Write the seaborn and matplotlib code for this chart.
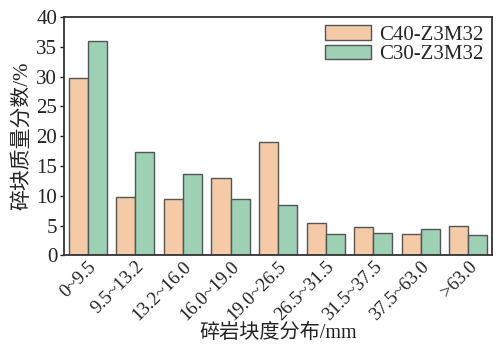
import matplotlib
matplotlib.use("Agg")
import matplotlib.pyplot as plt
import seaborn as sns
import pandas as pd

categories = ["0~9.5", "9.5~13.2", "13.2~16.0", "16.0~19.0", "19.0~26.5",
              "26.5~31.5", "31.5~37.5", "37.5~63.0", ">63.0"]
c40_values = [29.8, 9.8, 9.4, 12.9, 19.0, 5.5, 4.7, 3.6, 5.0]
c30_values = [35.9, 17.3, 13.7, 9.5, 8.4, 3.6, 3.8, 4.5, 3.4]
series_names = ["C40-Z3M32", "C30-Z3M32"]
yticks = [0, 5, 10, 15, 20, 25, 30, 35, 40]

df = pd.DataFrame({
    "range": categories * 2,
    "value": c40_values + c30_values,
    "series": [series_names[0]] * len(categories) + [series_names[1]] * len(categories),
})

sns.set_theme(style="ticks")
plt.rcParams["font.family"] = ["Liberation Serif", "Noto Sans CJK SC"]

fig, ax = plt.subplots(figsize=(5.01, 3.46), dpi=100)
sns.barplot(data=df, x="range", y="value", hue="series", order=categories,
            hue_order=series_names, palette=["#F5CBA7", "#9DD0B5"],
            saturation=1, width=0.8, edgecolor="#555555", linewidth=1.0, ax=ax)

ax.set_ylim(0, 40)
ax.set_yticks(yticks)
ax.set_xlim(-0.5, len(categories) - 0.5)
ax.tick_params(axis="y", labelsize=15, length=3, width=1, direction="out",
               pad=2, colors="#222222")
ax.tick_params(axis="x", labelsize=13.5, length=0, pad=2, colors="#222222")
for lbl in ax.get_xticklabels():
    lbl.set_rotation(45)
    lbl.set_ha("right")
    lbl.set_rotation_mode("anchor")

for s in ax.spines.values():
    s.set_visible(True)
    s.set_linewidth(1.3)
    s.set_color("#333333")

ax.set_ylabel("碎块质量分数/%", fontsize=15, labelpad=3, color="#222222")
ax.set_xlabel("碎岩块度分布/mm", fontsize=14.5, labelpad=0, color="#222222")

ax.legend(loc="upper right", frameon=False, fontsize=15, handlelength=2.2,
          handleheight=0.7, labelspacing=0.0, borderaxespad=0.2,
          handletextpad=0.4, borderpad=0.2)

fig.subplots_adjust(left=0.128, right=0.982, top=0.951, bottom=0.262)
fig.savefig("out.png", dpi=100)
